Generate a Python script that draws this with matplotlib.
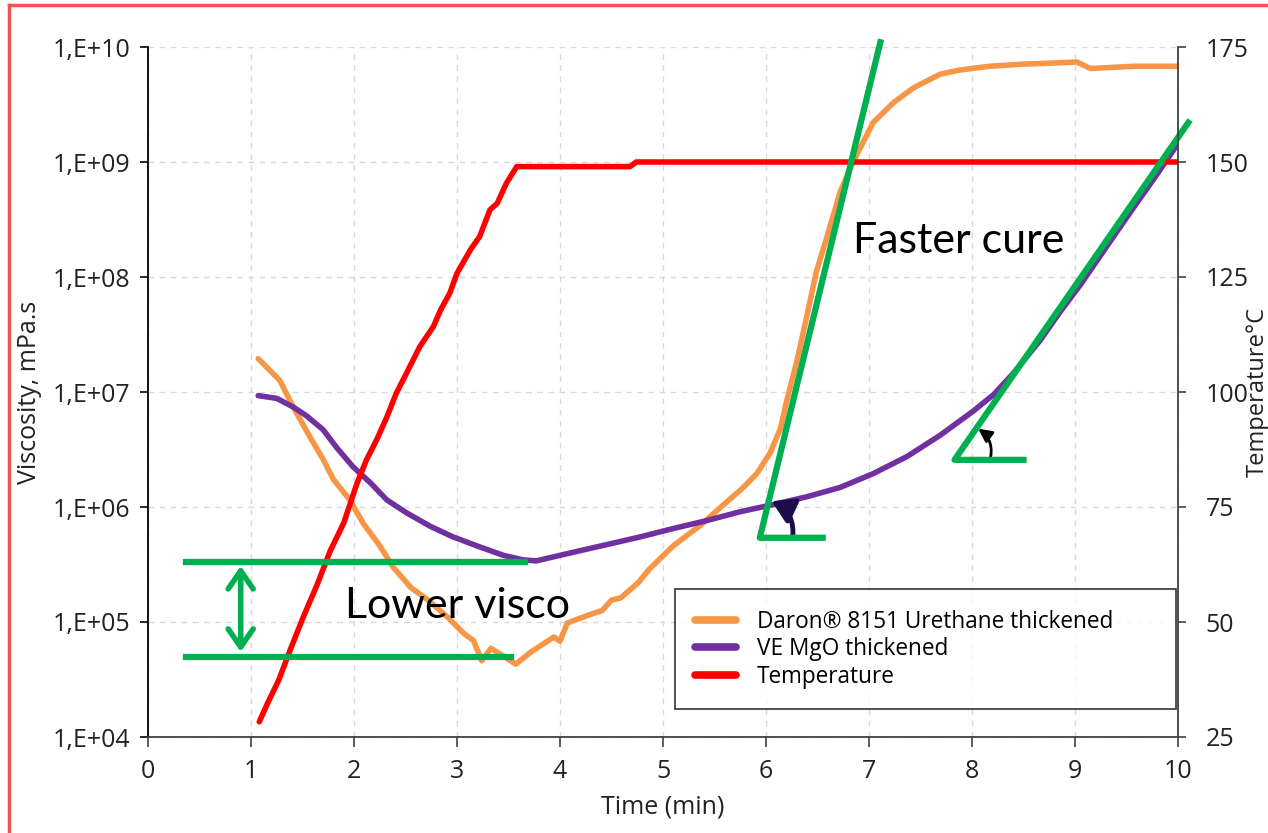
import numpy as np
import matplotlib.pyplot as plt
from matplotlib.patches import FancyArrowPatch
from matplotlib.lines import Line2D
from matplotlib.ticker import FixedLocator, FuncFormatter, NullLocator

plt.rcParams['font.family'] = ['Open Sans', 'DejaVu Sans']

# Daron 8151 urethane thickened, viscosity (mPa.s)
time_daron = [1.07, 1.28, 1.41, 1.57, 1.70, 1.80, 1.96, 2.09, 2.25, 2.38, 2.55, 2.72,
              2.90, 3.07, 3.16, 3.24, 3.33, 3.46, 3.57, 3.72, 3.94, 4.00, 4.07, 4.28,
              4.41, 4.50, 4.59, 4.76, 4.87, 5.10, 5.36, 5.59, 5.78, 5.91, 6.04, 6.14,
              6.20, 6.30, 6.39, 6.49, 6.59, 6.72, 6.85, 7.04, 7.24, 7.43, 7.69, 7.88,
              8.17, 8.50, 8.69, 9.02, 9.15, 9.57, 10.0]
visc_daron = [1.95e7, 1.26e7, 7.4e6, 4.1e6, 2.6e6, 1.74e6, 1.15e6, 7.2e5, 4.6e5, 3.0e5,
              2.0e5, 1.55e5, 1.12e5, 7.9e4, 6.9e4, 4.6e4, 5.9e4, 5.0e4, 4.3e4, 5.5e4,
              7.4e4, 6.8e4, 9.8e4, 1.15e5, 1.26e5, 1.55e5, 1.62e5, 2.2e5, 2.9e5, 4.6e5,
              6.9e5, 1.05e6, 1.48e6, 1.95e6, 2.95e6, 4.8e6, 8.3e6, 1.86e7, 4.3e7, 1.12e8,
              2.2e8, 5.5e8, 1.02e9, 2.2e9, 3.3e9, 4.4e9, 5.8e9, 6.3e9, 6.8e9, 7.1e9,
              7.2e9, 7.4e9, 6.5e9, 6.8e9, 6.8e9]

# VE MgO thickened, viscosity (mPa.s)
time_ve = [1.07, 1.25, 1.41, 1.54, 1.70, 1.83, 1.99, 2.16, 2.32, 2.51, 2.74, 2.96, 3.22,
           3.45, 3.64, 3.77, 4.00, 4.26, 4.45, 4.78, 5.10, 5.42, 5.75, 6.07, 6.40, 6.72,
           7.04, 7.37, 7.69, 8.01, 8.21, 8.40, 8.66, 8.85, 9.05, 9.30, 9.55, 9.80, 10.0]
visc_ve = [9.3e6, 8.8e6, 7.4e6, 6.2e6, 4.7e6, 3.3e6, 2.24e6, 1.62e6, 1.15e6, 8.9e5, 6.8e5,
           5.5e5, 4.5e5, 3.8e5, 3.47e5, 3.4e5, 3.8e5, 4.3e5, 4.7e5, 5.5e5, 6.5e5, 7.6e5,
           9.1e5, 1.05e6, 1.23e6, 1.48e6, 1.95e6, 2.75e6, 4.2e6, 6.8e6, 9.5e6, 1.45e7,
           2.8e7, 4.9e7, 8.5e7, 1.8e8, 3.8e8, 7.9e8, 1.45e9]

# temperature (°C)
time_temp = [1.08, 1.16, 1.27, 1.38, 1.51, 1.64, 1.77, 1.90, 2.03, 2.12, 2.22, 2.32, 2.41,
             2.51, 2.64, 2.77, 2.84, 2.93, 3.00, 3.13, 3.22, 3.32, 3.39, 3.48, 3.58, 4.00,
             4.50, 4.68, 4.74, 5.50, 6.50, 7.50, 8.50, 10.0]
temp = [28.3, 32.3, 37.4, 43.9, 51.2, 58.0, 65.5, 71.5, 80.2, 85.2, 89.6, 94.6, 99.7,
        104.1, 109.9, 114.2, 117.8, 121.5, 125.8, 130.9, 133.8, 139.6, 141.0, 145.4,
        149.0, 149.0, 149.0, 149.0, 150.0, 150.0, 150.0, 150.0, 150.0, 150.0]

# annotation overlay (data coords of the viscosity axis)
upper_bar = ([0.37, 3.66], [3.3e5, 3.3e5])
lower_bar = ([0.37, 3.52], [5.0e4, 5.0e4])
gap_arrow = ((0.90, 3.07e5), (0.90, 5.5e4))
steep_angle = ([7.11, 5.94, 6.55], [1.1e10, 5.4e5, 5.4e5])
flat_angle = ([10.10, 7.83, 8.50], [2.2e9, 2.57e6, 2.57e6])
curl1 = ((6.26, 5.4e5), (6.055, 1.12e6))
curl2 = ((8.17, 2.47e6), (8.06, 4.8e6))

orange = '#F79646'
purple = '#7030A0'
red = '#FF0000'
green = '#00B050'

W, H = 1268, 833
fig = plt.figure(figsize=(W / 100, H / 100), dpi=100)
ax1 = fig.add_axes([148 / W, 1 - 737 / H, 1030 / W, 690 / H])
ax2 = ax1.twinx()

ax1.plot(time_daron, visc_daron, color=orange, lw=4, solid_capstyle='round',
         solid_joinstyle='round', label='Daron\u00ae 8151 Urethane thickened')
ax1.plot(time_ve, visc_ve, color=purple, lw=4, solid_capstyle='round',
         solid_joinstyle='round', label='VE MgO thickened')
ax2.plot(time_temp, temp, color=red, lw=4, solid_capstyle='round',
         solid_joinstyle='round', label='Temperature')

ax1.set_yscale('log')
ax1.set_xlim(0, 10)
ax1.set_ylim(1e4, 1e10)
ax2.set_ylim(25, 175)
ax1.yaxis.set_major_locator(FixedLocator(10.0 ** np.arange(4, 11)))
ax1.yaxis.set_minor_locator(NullLocator())
ax1.yaxis.set_major_formatter(FuncFormatter(lambda v, p: f'1,E+{int(round(np.log10(v))):02d}'))
ax1.set_xticks(range(0, 11))
ax2.set_yticks(range(25, 176, 25))

ax1.grid(True, color='#D9D9D9', ls=(0, (4, 4)), lw=1)
for s in ['top', 'right']:
    ax1.spines[s].set_visible(False)
for s in ['top', 'left', 'bottom']:
    ax2.spines[s].set_visible(False)
ax1.spines['left'].set_color('black')
ax1.spines['left'].set_linewidth(1.3)
ax1.spines['bottom'].set_color('#404040')
ax1.spines['bottom'].set_linewidth(1.3)
ax2.spines['right'].set_color('#404040')
ax2.spines['right'].set_linewidth(1.3)

ax1.tick_params(axis='y', length=6, width=1.2, pad=7, labelsize=18, labelcolor='#222222')
ax1.tick_params(axis='x', length=7, width=1.2, pad=9, labelsize=18, labelcolor='#222222',
                color='#404040')
ax2.tick_params(axis='y', length=6, width=1.2, pad=14, labelsize=18, labelcolor='#222222',
                color='#404040')

ax1.set_xlabel('Time (min)', fontsize=18, color='#222222')
ax1.xaxis.set_label_coords(0.5, -0.083)
ax1.set_ylabel('Viscosity, mPa.s', fontsize=18, color='#222222')
ax1.yaxis.set_label_coords(-0.103, 0.5)
ax2.set_ylabel('Temperature\u00b0C', fontsize=17, color='#222222')
ax2.yaxis.set_label_coords(1.066, 0.5)

# overlay drawn on top of the temperature axis, in viscosity coordinates
tr = ax1.transData
ax2.plot(*upper_bar, color=green, lw=4.5, transform=tr, clip_on=False)
ax2.plot(*lower_bar, color=green, lw=4.5, transform=tr, clip_on=False)
ax2.add_patch(FancyArrowPatch(gap_arrow[0], gap_arrow[1], transform=tr,
                              arrowstyle='<->,head_length=13,head_width=9',
                              color=green, lw=4, shrinkA=0, shrinkB=0))
ax2.plot(*steep_angle, color=green, lw=4.5, transform=tr, clip_on=False)
ax2.plot(*flat_angle, color=green, lw=4.5, transform=tr, clip_on=False)
ax2.add_patch(FancyArrowPatch(curl1[0], curl1[1], transform=tr,
                              connectionstyle='arc3,rad=0.35',
                              arrowstyle='-|>,head_length=13,head_width=8',
                              color='#1E0B4B', lw=3.5, shrinkA=0, shrinkB=0))
ax2.add_patch(FancyArrowPatch(curl2[0], curl2[1], transform=tr,
                              connectionstyle='arc3,rad=0.35',
                              arrowstyle='-|>,head_length=8,head_width=4',
                              color='black', lw=2, shrinkA=0, shrinkB=0))

ax2.text(1.91, 10 ** 5.035, 'Lower visco', transform=tr, fontsize=31,
         family=['Lato', 'DejaVu Sans'], ha='left', va='baseline')
ax2.text(6.84, 10 ** 8.21, 'Faster cure', transform=tr, fontsize=31,
         family=['Lato', 'DejaVu Sans'], ha='left', va='baseline')

handles = ax1.get_legend_handles_labels()[0] + ax2.get_legend_handles_labels()[0]
leg = ax2.legend(handles=handles, loc='lower left',
                 bbox_to_anchor=(0.5117, 0.0406, 0.4866, 0.175), mode='expand',
                 fontsize=16.3, frameon=True, fancybox=False, edgecolor='black',
                 handlelength=1.8, handletextpad=0.9, labelspacing=0.15,
                 borderpad=0.9, borderaxespad=0)
leg.get_frame().set_linewidth(1.2)
for line in leg.get_lines():
    line.set_linewidth(5.5)

# red frame of the slide
fig.add_artist(Line2D([9 / W, 1], [1 - 5 / H, 1 - 5 / H], color='#EE5555', lw=2.5))
fig.add_artist(Line2D([9 / W, 9 / W], [0, 1 - 5 / H], color='#EE5555', lw=2.5))

fig.savefig('out.png', dpi=100)
